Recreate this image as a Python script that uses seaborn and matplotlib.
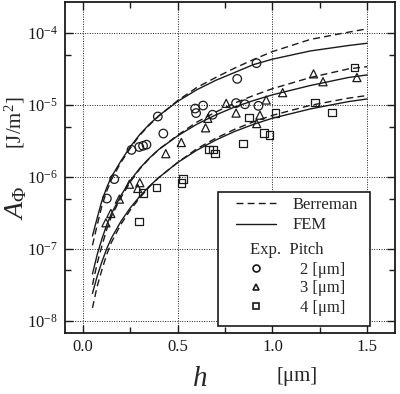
import numpy as np
import pandas as pd
import seaborn as sns
import matplotlib
matplotlib.use("Agg")
import matplotlib.pyplot as plt
from matplotlib.lines import Line2D
from matplotlib.patches import Rectangle
from matplotlib.ticker import LogLocator, NullFormatter, FixedLocator, FormatStrFormatter

# calculated curves
h_fit = [0.05, 0.075, 0.1, 0.125, 0.15, 0.2, 0.25, 0.3, 0.35, 0.4, 0.5, 0.6, 0.7, 0.8, 0.9, 1.0, 1.2, 1.4, 1.5]
fem_2 = [1.51e-7, 2.69e-7, 4.68e-7, 7.08e-7, 1.0e-6, 1.66e-6, 2.63e-6, 3.89e-6, 5.37e-6, 7.08e-6,
         1.12e-5, 1.62e-5, 2.19e-5, 2.82e-5, 3.63e-5, 4.32e-5, 5.62e-5, 6.68e-5, 7.19e-5]
ber_2 = [1.12e-7, 2.14e-7, 3.98e-7, 6.31e-7, 9.12e-7, 1.585e-6, 2.51e-6, 3.80e-6, 5.25e-6, 7.0e-6,
         1.15e-5, 1.74e-5, 2.40e-5, 3.24e-5, 4.27e-5, 5.50e-5, 8.13e-5, 1.023e-4, 1.14e-4]
fem_3 = [4.47e-8, 8.32e-8, 1.38e-7, 2.14e-7, 3.09e-7, 5.50e-7, 8.91e-7, 1.32e-6, 1.82e-6, 2.40e-6,
         3.72e-6, 5.37e-6, 7.24e-6, 9.33e-6, 1.15e-5, 1.38e-5, 1.86e-5, 2.40e-5, 2.61e-5]
ber_3 = [3.16e-8, 6.31e-8, 1.10e-7, 1.86e-7, 2.82e-7, 5.13e-7, 8.51e-7, 1.29e-6, 1.80e-6, 2.40e-6,
         3.80e-6, 5.75e-6, 7.94e-6, 1.06e-5, 1.35e-5, 1.68e-5, 2.40e-5, 3.16e-5, 3.40e-5]
fem_4 = [2.40e-8, 4.17e-8, 6.61e-8, 1.0e-7, 1.41e-7, 2.40e-7, 3.72e-7, 5.37e-7, 7.41e-7, 9.77e-7,
         1.585e-6, 2.34e-6, 3.24e-6, 4.27e-6, 5.37e-6, 6.53e-6, 8.79e-6, 1.11e-5, 1.21e-5]
ber_4 = [1.51e-8, 3.02e-8, 5.13e-8, 8.32e-8, 1.23e-7, 2.19e-7, 3.47e-7, 5.13e-7, 7.24e-7, 9.77e-7,
         1.585e-6, 2.45e-6, 3.43e-6, 4.57e-6, 5.82e-6, 7.16e-6, 9.86e-6, 1.24e-5, 1.35e-5]

# measurements
circ_h = [0.126, 0.165, 0.256, 0.297, 0.317, 0.335, 0.395, 0.424, 0.592, 0.597, 0.634, 0.684, 0.808, 0.855, 0.926, 0.814, 0.916]
circ_A = [5.0e-7, 9.3e-7, 2.37e-6, 2.6e-6, 2.7e-6, 2.8e-6, 6.9e-6, 4.0e-6, 8.9e-6, 7.7e-6, 9.8e-6, 7.3e-6, 1.06e-5, 1.02e-5, 9.7e-6, 2.3e-5, 3.8e-5]
tri_h = [0.121, 0.147, 0.192, 0.245, 0.30, 0.289, 0.437, 0.519, 0.647, 0.659, 0.756, 0.808, 0.934, 0.967, 0.917, 1.054, 1.217, 1.267, 1.446]
tri_A = [2.3e-7, 3.1e-7, 4.9e-7, 7.9e-7, 8.3e-7, 6.9e-7, 2.1e-6, 3.0e-6, 4.8e-6, 6.5e-6, 1.05e-5, 7.7e-6, 7.2e-6, 1.17e-5, 5.5e-6, 1.48e-5, 2.7e-5, 2.1e-5, 2.4e-5]
sq_h = [0.296, 0.317, 0.388, 0.519, 0.528, 0.665, 0.686, 0.697, 0.844, 0.875, 0.955, 0.984, 1.016, 1.226, 1.314, 1.434]
sq_A = [2.4e-7, 6.0e-7, 7.1e-7, 8.2e-7, 9.4e-7, 2.4e-6, 2.4e-6, 2.1e-6, 2.9e-6, 6.7e-6, 4.1e-6, 3.8e-6, 7.7e-6, 1.08e-5, 7.8e-6, 3.3e-5]

sns.set_theme(style="ticks")
plt.rcParams["font.family"] = ["Liberation Serif", "DejaVu Serif"]
plt.rcParams["mathtext.fontset"] = "custom"
plt.rcParams["mathtext.rm"] = "Liberation Serif"
plt.rcParams["mathtext.it"] = "Liberation Serif:italic"

W, H = 400, 394
fig = plt.figure(figsize=(W / 100, H / 100), dpi=100)
ax = fig.add_axes([65 / W, 1 - 333 / H, 330 / W, 331 / H])

curves = pd.DataFrame({"h": h_fit, "fem2": fem_2, "ber2": ber_2, "fem3": fem_3,
                       "ber3": ber_3, "fem4": fem_4, "ber4": ber_4})
dash = (0, (5, 3))
for p in ["2", "3", "4"]:
    sns.lineplot(data=curves, x="h", y="ber" + p, color="k", lw=1.0,
                 linestyle=dash, ax=ax, estimator=None, sort=False)
    sns.lineplot(data=curves, x="h", y="fem" + p, color="k", lw=1.0,
                 ax=ax, estimator=None, sort=False)

for hx, ay, mk, sz in [(circ_h, circ_A, "o", 38), (tri_h, tri_A, "^", 34), (sq_h, sq_A, "s", 30)]:
    sns.scatterplot(x=hx, y=ay, marker=mk, s=sz, color="k", ax=ax, zorder=3)
    pts = ax.collections[-1]
    pts.set_facecolor("none")
    pts.set_edgecolor("k")
    pts.set_linewidth(0.9)

ax.set_yscale("log")
ax.set_xlim(-0.095, 1.647)
ax.set_ylim(10 ** -8.17, 10 ** -3.57)
ax.xaxis.set_major_locator(FixedLocator([0.0, 0.5, 1.0, 1.5]))
ax.xaxis.set_minor_locator(FixedLocator([0.25, 0.75, 1.25]))
ax.xaxis.set_major_formatter(FormatStrFormatter("%.1f"))
ax.yaxis.set_major_locator(LogLocator(base=10, numticks=10))
ax.yaxis.set_minor_locator(LogLocator(base=10, subs=[5.0], numticks=10))
ax.yaxis.set_minor_formatter(NullFormatter())

ax.grid(True, which="major", linestyle=(0, (1, 1.5)), color="k", lw=0.7)
ax.tick_params(which="both", direction="in", top=True, right=True, width=1.0,
               labelsize=12, colors="k")
ax.tick_params(which="major", length=6)
ax.tick_params(which="minor", length=4)
ax.tick_params(axis="y", pad=5)
ax.tick_params(axis="x", pad=4)
for s in ax.spines.values():
    s.set_linewidth(1.3)
    s.set_color("k")

ax.set_xlabel("")
ax.set_ylabel("")
fig.text(200 / W, 1 - 379 / H, "$h$", fontsize=21, ha="center", va="center")
fig.text(297 / W, 1 - 381 / H, "[\u03bcm]", fontsize=15, ha="center", va="baseline")
fig.text(16 / W, 1 - 203 / H, r"$A_{\Phi}$", fontsize=20, rotation=90,
         ha="center", va="center")
fig.text(15 / W, 1 - 123 / H, r"[J/m$^{2}$]", fontsize=15, rotation=90,
         ha="center", va="center")

# legend box
ax.add_patch(Rectangle((218 / W, 1 - 326 / H), 152 / W, 134 / H, transform=fig.transFigure,
                       facecolor="white", edgecolor="k", lw=1.2, zorder=4.5, clip_on=False))

line_handles = [Line2D([], [], color="k", lw=1.0, linestyle=dash),
                Line2D([], [], color="k", lw=1.0)]
leg1 = ax.legend(line_handles, ["Berreman", "FEM"], loc="center left",
                 bbox_to_anchor=(236 / W, 1 - 215 / H), bbox_transform=fig.transFigure,
                 frameon=False, borderpad=0, borderaxespad=0, fontsize=12,
                 handlelength=2.4, handletextpad=1.0, labelspacing=0.28)
leg1.set_zorder(5)
ax.add_artist(leg1)

mk_handles = [Line2D([], [], marker=m, ls="", mfc="none", mec="k", ms=5, mew=1.2)
              for m in ["o", "^", "s"]]
leg2 = ax.legend(mk_handles, ["2 [\u03bcm]", "3 [\u03bcm]", "4 [\u03bcm]"], loc="center left",
                 bbox_to_anchor=(236 / W, 1 - 288.5 / H), bbox_transform=fig.transFigure,
                 frameon=False, borderpad=0, borderaxespad=0, fontsize=12,
                 handlelength=2.4, handletextpad=1.45, labelspacing=0.18)
leg2.set_zorder(5)

ax.text(250 / W, 1 - 250 / H, "Exp.  Pitch", transform=fig.transFigure,
        fontsize=12, ha="left", va="center", zorder=6)

fig.savefig("out.png", dpi=100)
